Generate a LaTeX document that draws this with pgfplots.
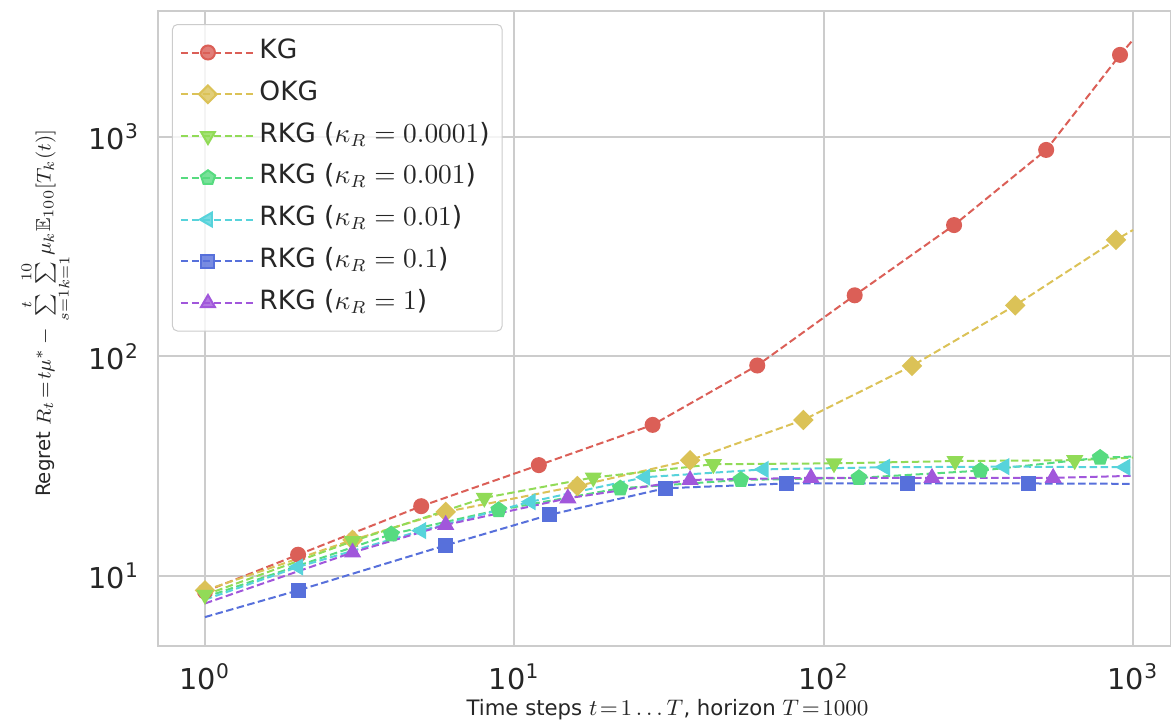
\documentclass[border=0pt]{standalone}
\usepackage[no-math]{fontspec}
\setmainfont{DejaVu Sans}
\usepackage{amssymb}
\usepackage{pgfplots}
\pgfplotsset{compat=1.18}

\definecolor{cKG}{HTML}{DB5F57}
\definecolor{cOKG}{HTML}{DBC257}
\definecolor{cA}{HTML}{91DB57}
\definecolor{cB}{HTML}{57DB80}
\definecolor{cC}{HTML}{57D3DB}
\definecolor{cD}{HTML}{5770DB}
\definecolor{cE}{HTML}{A157DB}
% math inside the axis labels
\newcommand\smx[1]{{\fontsize{8.6}{10}\selectfont$#1$}}
\newcommand\smy[1]{{\fontsize{8.1}{10}\selectfont$#1$}}

\begin{document}
\begin{tikzpicture}
\begin{axis}[
    scale only axis,
    width=405.2pt, height=254pt,
    xmode=log, ymode=log,
    xmin=0.705, xmax=1327,
    ymin=4.8, ymax=3750,
    xtick={1,10,100,1000},
    xticklabels={10\textsuperscript{0},10\textsuperscript{1},10\textsuperscript{2},10\textsuperscript{3}},
    ytick={10,100,1000},
    yticklabels={10\textsuperscript{1},10\textsuperscript{2},10\textsuperscript{3}},
    tick style={draw=none},
    minor tick num=0,
    grid=major,
    major grid style={draw=black!20, line width=0.8pt},
    axis line style={draw=black!20, line width=0.8pt},
    tick label style={font=\fontsize{11.5}{13}\selectfont, text=black!85},
    xticklabel style={anchor=center, yshift=-12.4pt},
    yticklabel style={anchor=east, xshift=-4pt},
    every axis x label/.style={at={(axis description cs:0.503,-0.1)}, anchor=center,
        font=\fontsize{8.5}{10}\selectfont, text=black!85},
    every axis y label/.style={at={(axis description cs:-0.111,0.524)}, anchor=center, rotate=90,
        font=\fontsize{7.9}{10}\selectfont, text=black!85},
    xlabel={Time steps \smx{t\!=\!1\ldots T}, horizon \smx{T\!=\!1000}},
    ylabel={Regret \smy{R_t\!=\!t\mu^*\,{-}\,\sum\limits_{s=1}^{t}\!\sum\limits_{k=1}^{10}\!\mu_k\mathbb{E}_{100}[T_k(t)]}},
    legend style={at={(0.0138,0.9795)}, anchor=north west,
        draw=black!20, rounded corners=2pt, fill=white, fill opacity=0.8, text opacity=1,
        font=\fontsize{10.6}{12}\selectfont, text=black!85,
        inner xsep=3pt, inner ysep=4pt, row sep=2.3pt,
        nodes={text height=7.6pt, text depth=2.8pt, inner sep=2pt}},
    legend cell align=left,
    legend image code/.code={
        \draw[mark indices={2}] plot coordinates {(0pt,0pt) (10.8pt,0pt) (21.6pt,0pt)};
        \path (21.6pt,0pt) -- (29pt,0pt);},
    every axis plot/.append style={line width=0.8pt, dash pattern=on 3pt off 1.4pt},
]
\addplot[cKG, mark=*, mark size=2.8pt, mark options={solid, fill=cKG},
    mark indices={1,2,3,4,5,6,7,8,9,10}] coordinates {
    (1,8.5) (2,12.5) (5,20.8) (12,32) (28,48.8) (61,91) (126,190) (264,397) (524,873) (908,2366) (1000,2770)
};
\addlegendentry{KG}
\addplot[cOKG, mark=square*, mark size=2.5pt, mark options={solid, rotate=45, fill=cOKG},
    mark indices={1,2,3,4,5,6,7,8,9}] coordinates {
    (1,8.6) (3,14.6) (6,19.6) (16,25.7) (37,33.7) (86,51.4) (193,90.6) (416,171) (881,340) (1000,377)
};
\addlegendentry{OKG}
\addplot[cA, mark=triangle*, mark size=3.2pt, mark options={solid, rotate=180, fill=cA},
    mark indices={1,2,3,4,5,6,7,8}] coordinates {
    (1,8.2) (3,14.4) (8,22.7) (18,28.1) (44,32.3) (108,32.6) (266,33.4) (648,33.7) (1000,34.6)
};
\addlegendentry{RKG ($\kappa_R=0.0001$)}
\addplot[cB, mark=pentagon*, mark size=3pt, mark options={solid, fill=cB},
    mark indices={2,3,4,5,6,7,8}] coordinates {
    (1,8.0) (4,15.5) (8.9,20.0) (22,25.1) (54,27.4) (130,28.0) (321,30.2) (783,34.6) (1000,35.0)
};
\addlegendentry{RKG ($\kappa_R=0.001$)}
\addplot[cC, mark=triangle*, mark size=3.2pt, mark options={solid, rotate=90, fill=cC},
    mark indices={2,3,4,5,6,7,8,9}] coordinates {
    (1,7.8) (2,11.0) (5,16.1) (11.3,21.8) (26.5,28.2) (64,30.6) (158,31.3) (384,31.5) (945,31.3) (1000,31.4)
};
\addlegendentry{RKG ($\kappa_R=0.01$)}
\addplot[cD, mark=square*, mark size=2.6pt, mark options={solid, fill=cD},
    mark indices={2,3,4,5,6,7,8}] coordinates {
    (1,6.5) (2,8.6) (6,13.8) (13,19.0) (30.7,25.1) (76,26.4) (186,26.4) (458,26.4) (1000,26.3)
};
\addlegendentry{RKG ($\kappa_R=0.1$)}
\addplot[cE, mark=triangle*, mark size=3.2pt, mark options={solid, fill=cE},
    mark indices={2,3,4,5,6,7,8}] coordinates {
    (1,7.5) (3,12.8) (6,17.1) (14.9,22.6) (37,27.4) (91,28.0) (224,28.0) (552,28.0) (1000,28.6)
};
\addlegendentry{RKG ($\kappa_R=1$)}
\end{axis}
\pgfresetboundingbox
\path (current axis.south west) ++(-63.2pt,-31.2pt) coordinate (bbA);
\path (current axis.north east) ++(0pt,4.4pt) coordinate (bbB);
\useasboundingbox (bbA) rectangle (bbB);
\end{tikzpicture}
\end{document}
